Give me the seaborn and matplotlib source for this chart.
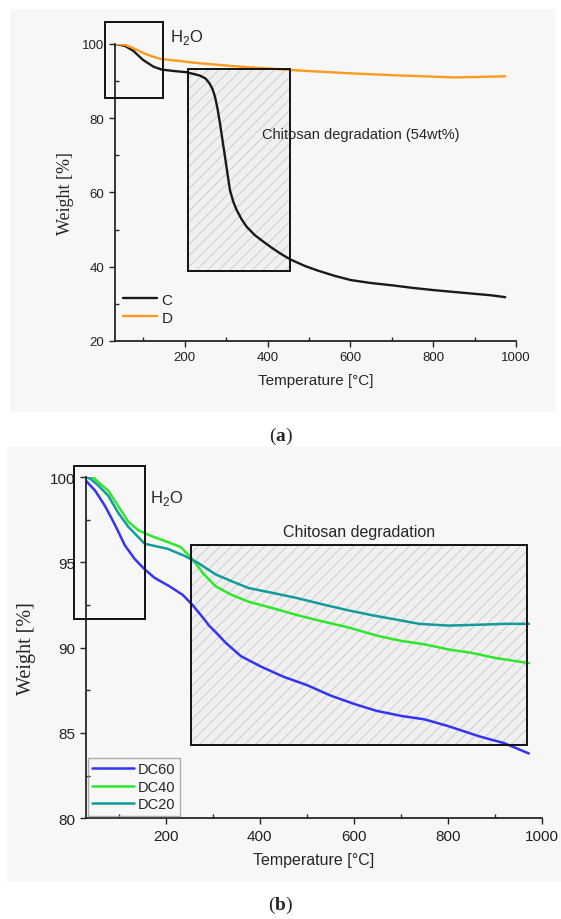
import pandas as pd
import matplotlib.pyplot as plt
import seaborn as sns
from matplotlib.patches import Rectangle
from matplotlib.ticker import MultipleLocator

# panel (a)
temp_c = [31, 55, 75, 99, 124, 144, 175, 204, 236, 250, 260, 267, 273, 279, 285, 291, 297, 303, 309, 317,
          325, 337, 349, 369, 389, 410, 430, 454, 490, 520, 560, 601, 650, 700, 750, 801, 850, 900, 940, 974]
weight_c = [100, 99.5, 98.2, 95.7, 93.9, 93.1, 92.7, 92.4, 91.5, 90.7, 89.3, 87.8, 85.7, 82.5, 78.5, 74.0, 69.6,
            65.0, 60.6, 57.5, 55.3, 52.8, 50.8, 48.5, 46.8, 45.1, 43.6, 42.0, 40.2, 39.0, 37.6, 36.4, 35.6,
            35.0, 34.3, 33.7, 33.2, 32.7, 32.3, 31.8]
temp_d = [31, 55, 75, 99, 120, 140, 180, 236, 300, 357, 403, 454, 500, 600, 700, 800, 850, 900, 974]
weight_d = [100, 99.8, 98.9, 97.6, 96.7, 96.0, 95.5, 94.8, 94.2, 93.7, 93.4, 93.0, 92.7, 92.1, 91.6, 91.2, 91.0, 91.1, 91.3]

# panel (b)
temp_dc60 = [30, 50, 71, 92, 113, 134, 155, 176, 208, 236, 257, 275, 292, 310, 327, 360, 402, 450, 501, 550,
             601, 648, 701, 750, 801, 867, 920, 972]
weight_dc60 = [99.8, 99.2, 98.3, 97.2, 96.0, 95.2, 94.6, 94.1, 93.6, 93.1, 92.5, 91.9, 91.3, 90.8, 90.3, 89.5,
               88.9, 88.3, 87.8, 87.2, 86.7, 86.3, 86.0, 85.8, 85.4, 84.8, 84.4, 83.8]
temp_dc40 = [30, 45, 57, 78, 99, 120, 141, 165, 204, 232, 253, 265, 278, 292, 306, 340, 376, 430, 481, 540,
             587, 650, 701, 750, 801, 850, 901, 972]
weight_dc40 = [100, 100, 99.7, 99.2, 98.3, 97.4, 96.9, 96.6, 96.2, 95.9, 95.3, 94.9, 94.4, 94.0, 93.6, 93.1,
               92.7, 92.3, 91.9, 91.5, 91.2, 90.7, 90.4, 90.2, 89.9, 89.7, 89.4, 89.1]
temp_dc20 = [30, 40, 57, 78, 99, 120, 155, 204, 239, 267, 306, 340, 376, 430, 481, 540, 587, 640, 700, 739,
             801, 867, 920, 972]
weight_dc20 = [100, 99.9, 99.5, 98.9, 97.9, 97.1, 96.1, 95.8, 95.4, 95.0, 94.3, 93.9, 93.5, 93.2, 92.9, 92.5,
               92.2, 91.9, 91.6, 91.4, 91.3, 91.35, 91.4, 91.4]

df_a = pd.concat([
    pd.DataFrame({'temp': temp_c, 'weight': weight_c, 'sample': 'C'}),
    pd.DataFrame({'temp': temp_d, 'weight': weight_d, 'sample': 'D'}),
])
df_b = pd.concat([
    pd.DataFrame({'temp': temp_dc60, 'weight': weight_dc60, 'sample': 'DC60'}),
    pd.DataFrame({'temp': temp_dc40, 'weight': weight_dc40, 'sample': 'DC40'}),
    pd.DataFrame({'temp': temp_dc20, 'weight': weight_dc20, 'sample': 'DC20'}),
])

sns.set_style('ticks')
plt.rcParams['font.family'] = ['Liberation Sans', 'DejaVu Sans']
plt.rcParams['hatch.linewidth'] = 0.6
plt.rcParams['mathtext.fontset'] = 'custom'
plt.rcParams['mathtext.rm'] = 'Liberation Sans'
plt.rcParams['mathtext.bf'] = 'Liberation Serif:bold'

fig = plt.figure(figsize=(5.61, 9.2), dpi=100)
fig.patches.append(Rectangle((10/561, 1-413/920), 546/561, 403/920, transform=fig.transFigure,
                             facecolor='#f7f7f7', edgecolor='none', zorder=-10))
fig.patches.append(Rectangle((7/561, 1-883/920), 554/561, 435/920, transform=fig.transFigure,
                             facecolor='#f7f7f7', edgecolor='none', zorder=-10))

ax1 = fig.add_axes([0.2041, 0.6283, 0.7157, 0.3228])
ax2 = fig.add_axes([0.1531, 0.1095, 0.8130, 0.3707])

for ax, fs in ((ax1, 9.5), (ax2, 11)):
    ax.set_facecolor('none')
    sns.despine(ax=ax)
    ax.spines['left'].set_linewidth(1.3)
    ax.spines['bottom'].set_linewidth(1.3)
    ax.tick_params(which='major', direction='out', length=4, width=1, labelsize=fs, colors='#222222')
    ax.tick_params(which='minor', direction='in', length=3, width=1)
    ax.xaxis.set_major_locator(MultipleLocator(200))
    ax.xaxis.set_minor_locator(MultipleLocator(100))
    ax.set_xlim(30, 1000)

# ---- (a)
sns.lineplot(data=df_a, x='temp', y='weight', hue='sample', palette=['#1a1a1a', '#ff9a1f'],
             estimator=None, sort=True, linewidth=1.7, ax=ax1)
ax1.set_ylim(20, 100)
ax1.yaxis.set_major_locator(MultipleLocator(20))
ax1.yaxis.set_minor_locator(MultipleLocator(10))
ax1.add_patch(Rectangle((207, 38.9), 247, 54.4, facecolor='#f0f0f0', edgecolor='#c8c8c8',
                        hatch='///', linewidth=0, zorder=0))
ax1.add_patch(Rectangle((207, 38.9), 247, 54.4, fill=False, edgecolor='#111111', linewidth=1.4, zorder=3))
ax1.add_patch(Rectangle((8, 85.4), 138, 20.6, fill=False, edgecolor='#111111', linewidth=1.4,
                        clip_on=False, zorder=3))
ax1.text(164, 102, r'H$_2$O', fontsize=12, va='center', ha='left')
ax1.text(387, 75.8, 'Chitosan degradation (54wt%)', fontsize=10.5, va='center', ha='left')
ax1.set_xlabel('Temperature [°C]', fontsize=11, labelpad=7)
ax1.set_ylabel('Weight [%]', fontsize=13, family=['Liberation Serif'], labelpad=6)
ax1.legend(loc='center left', bbox_to_anchor=(0.022, 0.109), frameon=False, fontsize=11,
           handlelength=2.2, handletextpad=0.3, labelspacing=0.25, borderpad=0, borderaxespad=0)
fig.text(0.5, 1-436/920, r'($\mathbf{a}$)', ha='center', va='center', fontsize=14,
         family=['Liberation Serif'])

# ---- (b)
sns.lineplot(data=df_b, x='temp', y='weight', hue='sample', palette=['#3434f2', '#2ee62e', '#139a9a'],
             estimator=None, sort=True, linewidth=1.8, ax=ax2)
ax2.set_ylim(80, 100)
ax2.yaxis.set_major_locator(MultipleLocator(5))
ax2.yaxis.set_minor_locator(MultipleLocator(2.5))
ax2.add_patch(Rectangle((253, 84.3), 715, 11.7, facecolor='#f0f0f0', edgecolor='#c8c8c8',
                        hatch='///', linewidth=0, zorder=0))
ax2.add_patch(Rectangle((253, 84.3), 715, 11.7, fill=False, edgecolor='#111111', linewidth=1.4, zorder=3))
ax2.add_patch(Rectangle((4, 91.7), 151, 8.95, fill=False, edgecolor='#111111', linewidth=1.4,
                        clip_on=False, zorder=3))
ax2.text(166, 98.8, r'H$_2$O', fontsize=12, va='center', ha='left')
ax2.text(610, 96.8, 'Chitosan degradation', fontsize=11.5, va='center', ha='center')
ax2.set_xlabel('Temperature [°C]', fontsize=11.5, labelpad=7)
ax2.set_ylabel('Weight [%]', fontsize=14.5, family=['Liberation Serif'], labelpad=10)
leg = ax2.legend(loc='lower left', bbox_to_anchor=(0.004, 0.008), frameon=True, fancybox=False,
                 fontsize=10.5, handlelength=2.9, handletextpad=0.25, labelspacing=0.23,
                 borderpad=0.3, borderaxespad=0)
leg.get_frame().set_edgecolor('#999999')
leg.get_frame().set_facecolor('none')
fig.text(0.5, 1-905/920, r'($\mathbf{b}$)', ha='center', va='center', fontsize=14,
         family=['Liberation Serif'])

fig.savefig('out.png', dpi=100, facecolor='white')
